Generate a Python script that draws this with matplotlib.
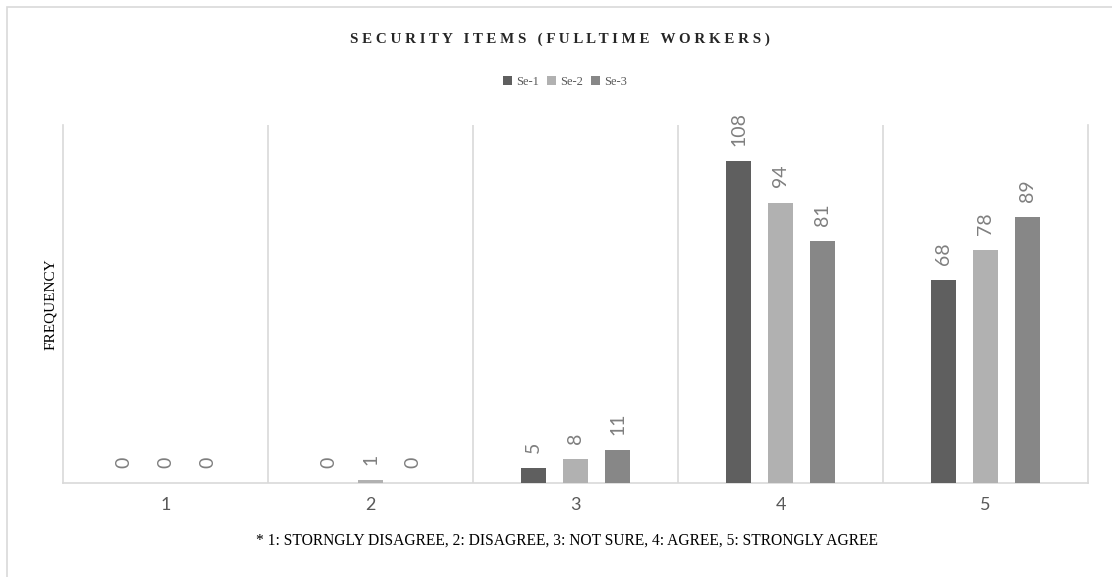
import matplotlib.pyplot as plt
import numpy as np
from matplotlib.patches import Rectangle

categories = ['1', '2', '3', '4', '5']
series_names = ['Se-1', 'Se-2', 'Se-3']
se1 = [0, 0, 5, 108, 68]
se2 = [0, 1, 8, 94, 78]
se3 = [0, 0, 11, 81, 89]

colors = ['#5f5f5f', '#b1b1b1', '#878787']
grid_color = '#d9d9d9'
label_color = '#7f7f7f'

fig = plt.figure(figsize=(11.12, 5.77), dpi=100)
# outer chart border
fig.patches.append(Rectangle((6.5 / 1112, -0.1), 1.2, (577 - 6.5) / 577 + 0.1,
                             transform=fig.transFigure, fill=False,
                             edgecolor=grid_color, linewidth=1.2))

ax = fig.add_axes([63 / 1112, 1 - 483 / 577, 1025 / 1112, 358 / 577])

x = np.arange(len(categories))
width = 0.122
offset = 0.205
for i, (name, vals) in enumerate(zip(series_names, [se1, se2, se3])):
    pos = x + (i - 1) * offset
    ax.bar(pos, vals, width, color=colors[i], label=name, zorder=3)
    for p, v in zip(pos, vals):
        ax.annotate(str(v), (p, v), xytext=(0, 11), textcoords='offset points',
                    rotation=90, ha='center', va='bottom', fontsize=14,
                    color=label_color, family='Lato')

ax.set_xlim(-0.5, len(categories) - 0.5)
ax.set_ylim(0, 120)
ax.set_yticks([])
ax.set_xticks(x)
ax.set_xticklabels(categories, fontsize=13, color='#595959', family='Lato')
ax.tick_params(axis='x', length=0, pad=10)
for b in np.arange(0.5, len(categories) - 0.5, 1.0):
    ax.axvline(b, color=grid_color, linewidth=1.2, zorder=1)
ax.spines['top'].set_visible(False)
for s in ['left', 'right', 'bottom']:
    ax.spines[s].set_color(grid_color)
    ax.spines[s].set_linewidth(1.2)

ax.set_ylabel('FREQUENCY', family='Liberation Serif', fontsize=11, color='black', labelpad=4)

fig.text(560 / 1112, 1 - 39 / 577, 'S E C U R I T Y   I T E M S   ( F U L L T I M E   W O R K E R S )',
         ha='center', va='center', family='Liberation Serif', fontweight='bold',
         fontsize=10.8, color='#262626')

leg = fig.legend(loc='center', bbox_to_anchor=(565 / 1112, 1 - 82 / 577), ncol=3,
                 frameon=False, prop={'family': 'Liberation Serif', 'size': 9},
                 handlelength=0.7, handleheight=0.7, handletextpad=0.3, columnspacing=0.7)
for t in leg.get_texts():
    t.set_color('#595959')

fig.text(567 / 1112, 1 - 541 / 577,
         '* 1: STORNGLY DISAGREE, 2: DISAGREE, 3: NOT SURE, 4: AGREE, 5: STRONGLY AGREE',
         ha='center', va='center', family='Liberation Serif', fontsize=11.2, color='black')

fig.savefig('out.png', dpi=100)
